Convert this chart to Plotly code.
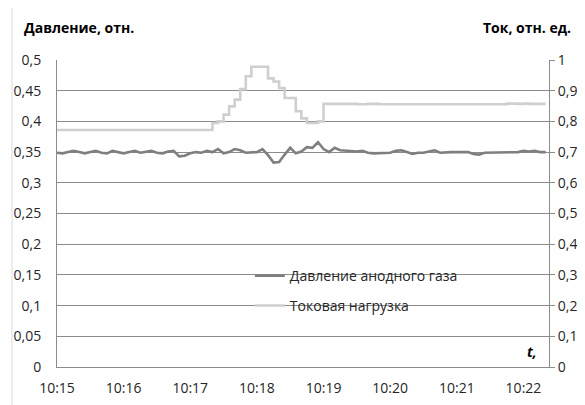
import pandas as pd
import plotly.graph_objects as go

# ---- data (5-second samples from 10:15:00) ----
start_time = "2024-01-01 10:15:00"
step_seconds = 5

pressure = [
    0.349, 0.348, 0.350, 0.352, 0.350, 0.348, 0.350, 0.352, 0.349, 0.348,
    0.352, 0.350, 0.348, 0.350, 0.352, 0.349, 0.350, 0.352, 0.349, 0.348,
    0.351, 0.352, 0.343, 0.344, 0.348, 0.350, 0.349, 0.352, 0.350, 0.355,
    0.348, 0.350, 0.355, 0.353, 0.349, 0.350, 0.350, 0.355, 0.345, 0.333,
    0.334, 0.346, 0.357, 0.348, 0.351, 0.358, 0.357, 0.366, 0.355, 0.350,
    0.357, 0.353, 0.352, 0.352, 0.351, 0.352, 0.349, 0.348, 0.348, 0.348,
    0.349, 0.352, 0.353, 0.350, 0.347, 0.349, 0.349, 0.351, 0.353, 0.349,
    0.350, 0.350, 0.350, 0.350, 0.350, 0.347, 0.346, 0.349, 0.349, 0.349,
    0.350, 0.350, 0.350, 0.350, 0.352, 0.351, 0.352, 0.350, 0.350,
]

current = [
    0.772, 0.772, 0.772, 0.772, 0.772, 0.772, 0.772, 0.772, 0.772, 0.772,
    0.772, 0.772, 0.772, 0.772, 0.772, 0.772, 0.772, 0.772, 0.772, 0.772,
    0.772, 0.772, 0.772, 0.772, 0.772, 0.772, 0.772, 0.772, 0.795, 0.800,
    0.822, 0.849, 0.871, 0.905, 0.947, 0.978, 0.978, 0.978, 0.940, 0.930,
    0.909, 0.876, 0.876, 0.833, 0.810, 0.795, 0.795, 0.800, 0.857, 0.857,
    0.857, 0.857, 0.857, 0.857, 0.856, 0.856, 0.857, 0.857, 0.856, 0.856,
    0.856, 0.856, 0.856, 0.856, 0.856, 0.856, 0.856, 0.856, 0.856, 0.856,
    0.856, 0.856, 0.856, 0.856, 0.856, 0.856, 0.856, 0.856, 0.856, 0.856,
    0.856, 0.858, 0.858, 0.857, 0.858, 0.857, 0.857, 0.857, 0.857,
]

x_tick_labels = ["10:15", "10:16", "10:17", "10:18", "10:19", "10:20", "10:21", "10:22"]
left_tick_vals = [0, 0.05, 0.1, 0.15, 0.2, 0.25, 0.3, 0.35, 0.4, 0.45, 0.5]
left_tick_text = ["0", "0,05", "0,1", "0,15", "0,2", "0,25", "0,3", "0,35", "0,4", "0,45", "0,5"]
right_tick_vals = [0, 0.1, 0.2, 0.3, 0.4, 0.5, 0.6, 0.7, 0.8, 0.9, 1]
right_tick_text = ["0", "0,1", "0,2", "0,3", "0,4", "0,5", "0,6", "0,7", "0,8", "0,9", "1"]

series_names = ["Давление анодного газа", "Токовая нагрузка"]

times = pd.date_range(start_time, periods=len(pressure), freq=f"{step_seconds}s")
tick_times = [pd.Timestamp("2024-01-01 " + t) for t in x_tick_labels]
x_end = pd.Timestamp("2024-01-01 10:22:23")

FONT = "Open Sans"
GRID = "#8c8c8c"
TXT = "#262626"

fig = go.Figure()
fig.add_trace(go.Scatter(
    x=times, y=pressure, mode="lines", name=series_names[0],
    line=dict(color="#7f7f7f", width=2.6), yaxis="y", legend="legend",
))
fig.add_trace(go.Scatter(
    x=times, y=current, mode="lines", name=series_names[1],
    line=dict(color="#cfcfcf", width=2.6, shape="hv"), yaxis="y2", legend="legend2",
))

# the page body has an 8px margin, so the figure is 8px smaller and shifted
fig.update_layout(
    width=577, height=397,
    margin=dict(l=49, r=36, t=52, b=38, autoexpand=False),
    paper_bgcolor="white", plot_bgcolor="white",
    font=dict(family=FONT, size=14, color=TXT),
    xaxis=dict(
        range=[times[0], x_end], tickvals=tick_times, ticktext=x_tick_labels,
        showgrid=False, showline=True, linecolor=GRID, linewidth=1,
        ticks="", zeroline=False, ticklabelstandoff=8,
    ),
    yaxis=dict(
        range=[0, 0.5], tickvals=left_tick_vals, ticktext=left_tick_text,
        showgrid=True, gridcolor=GRID, gridwidth=1,
        showline=True, linecolor=GRID, linewidth=1, ticks="", zeroline=False,
        ticklabelstandoff=12,
    ),
    yaxis2=dict(
        range=[0, 1], tickvals=right_tick_vals, ticktext=right_tick_text,
        overlaying="y", side="right", showgrid=False,
        showline=True, linecolor=GRID, linewidth=1,
        ticks="outside", ticklen=5, tickcolor=GRID, zeroline=False,
        ticklabelstandoff=0,
    ),
    legend=dict(
        x=0.392, y=0.296, xanchor="left", yanchor="middle",
        bgcolor="rgba(0,0,0,0)", itemwidth=30, font=dict(size=14, color=TXT),
    ),
    legend2=dict(
        x=0.392, y=0.199, xanchor="left", yanchor="middle",
        bgcolor="rgba(0,0,0,0)", itemwidth=30, font=dict(size=14, color=TXT),
    ),
    showlegend=True,
    shapes=[dict(
        type="rect", xref="paper", yref="paper",
        x0=-0.0915, x1=1.12, y0=-0.2, y1=1.1726,
        line=dict(color="#d9d9d9", width=1), fillcolor="rgba(0,0,0,0)", layer="below",
    )],
    annotations=[
        dict(text="<b>Давление, отн.</b>", xref="paper", yref="paper",
             x=-0.071, y=1.107, xanchor="left", yanchor="middle", showarrow=False,
             font=dict(size=14, color="black")),
        dict(text="<b>Ток, отн. ед.</b>", xref="paper", yref="paper",
             x=1.0488, y=1.107, xanchor="right", yanchor="middle", showarrow=False,
             font=dict(size=14, color="black")),
        dict(text="<b><i>t,</i></b>", xref="paper", yref="paper",
             x=0.965, y=0.05, xanchor="center", yanchor="middle", showarrow=False,
             font=dict(size=14, color="black")),
    ],
)

fig.write_html("out.html")
